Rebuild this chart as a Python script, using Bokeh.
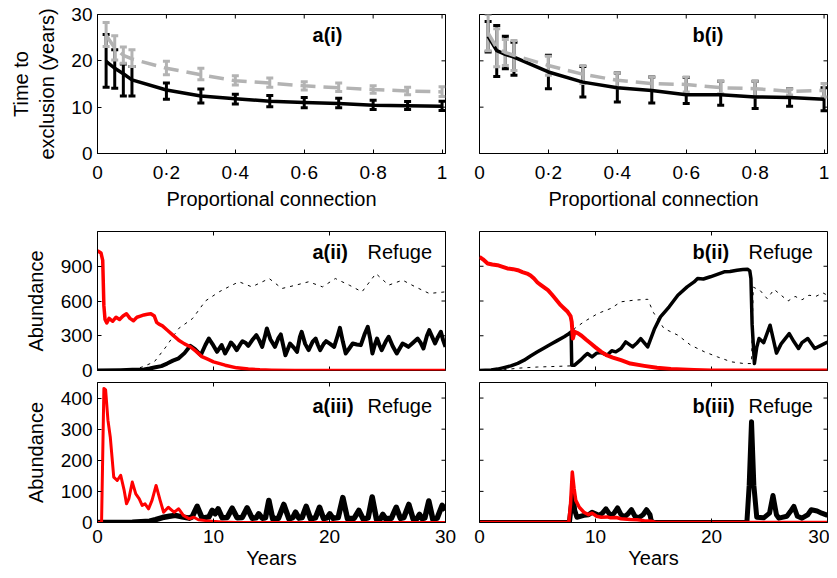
import math
from bokeh.plotting import figure
from bokeh.models import FixedTicker, Range1d, Label, Whisker, TeeHead, ColumnDataSource
from bokeh.layouts import column, row
from bokeh.embed import file_html
from bokeh.resources import INLINE

FONT = "Liberation Sans"
GREY = "#b3b3b3"
RED = "#ff0000"

# ---------------- panel (i) data ----------------
conn = [0.025, 0.05, 0.075, 0.1, 0.2, 0.3, 0.4, 0.5, 0.6, 0.7, 0.8, 0.9, 1.0]
conn_ticks = [0, 0.2, 0.4, 0.6, 0.8, 1.0]
conn_tick_labels = ["0", "0·2", "0·4", "0·6", "0·8", "1"]
time_ticks = [0, 10, 20, 30]
excl_ticks = [0, 10, 20, 30]
ab2_ticks = [0, 300, 600, 900]
ab3_ticks = [0, 100, 200, 300, 400]

ai_black_mean = [19.9, 18.4, 17.2, 15.9, 13.7, 12.4, 11.8, 11.3, 11.0, 10.8, 10.4, 10.3, 10.2]
ai_black_lo = [14.3, 14.1, 12.4, 12.4, 11.7, 10.9, 10.7, 10.1, 9.9, 9.9, 9.5, 9.5, 9.3]
ai_black_hi = [25.7, 22.4, 19.3, 18.8, 15.2, 13.9, 12.8, 12.5, 12.1, 11.9, 11.5, 11.2, 11.3]
ai_grey_mean = [25.5, 22.8, 21.2, 20.4, 18.4, 17.0, 15.7, 15.2, 14.6, 14.2, 13.8, 13.5, 13.3]
ai_grey_lo = [23.1, 20.2, 19.5, 18.8, 17.0, 15.9, 14.8, 14.3, 13.7, 13.4, 13.0, 12.7, 12.3]
ai_grey_hi = [28.3, 25.4, 23.0, 22.4, 19.9, 18.4, 16.8, 16.3, 15.5, 15.2, 14.6, 14.3, 14.4]

bi_black_mean = [25.3, 22.2, 21.4, 20.8, 17.6, 15.4, 14.2, 13.6, 12.7, 12.7, 12.2, 12.1, 11.7]
bi_black_lo = [21.9, 16.6, 18.3, 16.9, 14.0, 12.2, 11.1, 10.9, 10.8, 10.4, 9.7, 10.2, 9.2]
bi_black_hi = [28.5, 27.6, 25.3, 24.0, 21.2, 18.8, 17.4, 16.5, 16.4, 15.6, 15.6, 14.0, 14.2]
bi_grey_mean = [26.0, 22.8, 21.8, 21.2, 19.0, 17.1, 15.8, 15.1, 14.9, 14.2, 14.0, 13.4, 13.6]
bi_grey_lo = [22.2, 18.7, 19.0, 17.9, 16.9, 15.1, 14.2, 13.6, 13.3, 12.9, 12.2, 12.6, 12.2]
bi_grey_hi = [30.0, 26.9, 24.6, 24.4, 21.0, 19.0, 17.4, 16.5, 16.5, 15.6, 15.6, 14.0, 15.1]

# ---------------- panel a(ii) data ----------------
aii_red_t = [0, 0.3, 0.45, 0.55, 0.65, 0.8, 1.0, 1.3, 1.6, 1.9, 2.2, 2.5, 2.8, 3.1, 3.4, 3.7,
             4.0, 4.3, 4.6, 4.9, 5.1, 5.3, 5.6, 6.0, 6.5, 7.0, 7.5, 8.0, 8.5, 9.0, 9.5, 10.0,
             11.0, 12.0, 13.0, 14.0, 15.0, 17.0, 20.0, 30.0]
aii_red_v = [1035, 1015, 950, 560, 440, 410, 450, 425, 460, 440, 470, 490, 450, 430, 460, 470,
             480, 485, 490, 470, 415, 400, 385, 350, 305, 262, 230, 205, 165, 120, 98, 75,
             46, 23, 12, 6, 3, 1, 0, 0]
aii_blk_t = [0, 2, 3, 4, 4.5, 5, 5.5, 6, 6.5, 7, 7.5, 8.0, 8.4, 8.9, 9.3, 9.6, 9.9, 10.3, 10.7,
             11.0, 11.3, 11.5, 11.75, 12.0, 12.3, 12.5, 12.75, 13.0, 13.4, 13.7, 13.95, 14.2,
             14.45, 14.6, 14.9, 15.3, 15.6, 15.8, 16.0, 16.2, 16.6, 16.9, 17.2, 17.45, 17.6,
             17.9, 18.2, 18.55, 18.8, 19.0, 19.2, 19.5, 19.7, 20.05, 20.4, 20.7, 20.9, 21.15,
             21.4, 21.7, 22.0, 22.35, 22.7, 23.05, 23.3, 23.5, 23.7, 23.9, 24.1, 24.3, 24.5,
             24.85, 25.1, 25.45, 25.8, 26.05, 26.3, 26.55, 26.8, 27.2, 27.6, 27.85, 28.1,
             28.4, 28.6, 28.85, 29.1, 29.35, 29.6, 29.8, 30.0]
aii_blk_v = [0, 3, 6, 9, 17, 28, 38, 60, 85, 105, 150, 213, 185, 132, 220, 276, 230, 161, 220,
             147, 200, 242, 215, 176, 225, 253, 240, 213, 270, 305, 260, 204,
             300, 363, 270, 204, 280, 311, 220, 132, 233, 200, 161, 290, 334,
             230, 176, 250, 276, 220, 176, 230, 253, 230, 204, 300, 368, 250,
             147, 190, 233, 225, 219, 320, 377, 280, 147, 220, 276, 220, 176,
             250, 291, 210, 147, 190, 233, 220, 204, 240, 276, 240, 190,
             300, 348, 290, 233, 290, 334, 260, 204]
aii_dot_t = [3.0, 3.9, 4.9, 5.9, 7.0, 8.2, 9.3, 10.5, 11.3, 12.2, 13.3, 14.8, 15.9, 17.1, 18.2,
             19.4, 20.5, 21.7, 22.8, 24.0, 25.1, 26.3, 27.4, 28.6, 30.0]
aii_dot_v = [5, 32, 75, 204, 363, 449, 600, 680, 722, 766, 722, 794, 708, 737, 766,
             722, 794, 737, 679, 837, 737, 780, 722, 665, 679]

# ---------------- panel b(ii) data ----------------
bii_red_t = [0, 0.3, 0.7, 1.1, 1.55, 2.0, 2.4, 2.9, 3.3, 3.7, 4.1, 4.4, 4.7, 5.0, 5.3, 5.6,
             5.9, 6.2, 6.4, 6.7, 7.0, 7.3, 7.6, 7.85, 7.95, 8.05, 8.2, 8.5, 8.8, 9.2, 9.6,
             10.0, 10.5, 11.0, 11.5, 12.2, 13.0, 14.2, 15.3, 16.5, 18.5, 20.0, 30.0]
bii_red_v = [981, 960, 924, 915, 909, 895, 881, 875, 866, 850, 837, 820, 794, 760, 737, 715,
             694, 660, 636, 600, 564, 535, 507, 470, 420, 276, 334, 320, 300, 265, 233,
             200, 161, 130, 112, 89, 60, 40, 23, 12, 5, 1, 0]
bii_blk_t = [0, 1, 1.55, 2.1, 2.7, 3.3, 3.85, 4.4, 5.0, 5.5, 6.1, 6.7, 7.3, 7.6, 7.9, 7.95,
             8.2, 8.7, 9.0, 9.3, 9.7, 10.1, 10.5, 11.0, 11.4, 11.75, 12.2, 12.6, 13.2, 13.6,
             13.9, 14.5, 15.1, 15.6, 16.35, 17.1, 17.9, 18.5, 18.8, 19.3, 19.9, 20.5, 21.1,
             21.6, 22.2, 22.7, 23.1, 23.3, 23.4, 23.5, 23.7, 23.9, 24.1, 24.5, 25.05, 25.6,
             26.0, 26.7, 27.1, 27.5, 27.8, 28.3, 28.9, 29.4, 30.0]
bii_blk_v = [0, 5, 12, 25, 40, 62, 89, 125, 161, 190, 224, 258, 291, 310, 334, 46,
             46, 89, 120, 147, 118, 150, 155, 132, 170, 161, 190, 247, 204, 240,
             276, 204, 363, 463, 550, 650, 722, 765, 794, 790, 809, 830, 852,
             855, 866, 872, 875, 860, 794, 400, 60, 200, 276, 240, 391, 150,
             230, 318, 250, 190, 240, 276, 190, 215, 245]
bii_dot_t = [0, 2, 3.3, 5, 6.5, 7.9, 8.05, 8.2, 9.0, 10.2, 11.3, 12.2, 13.3, 14.5, 15.0, 15.9,
             17.1, 18.2, 19.4, 20.5, 21.7, 22.8, 23.45, 23.6, 24.2, 24.8, 25.4, 26.0, 26.6,
             27.2, 27.8, 28.4, 29.0, 29.6, 30.0]
bii_dot_v = [0, 5, 20, 30, 35, 40, 330, 363, 420, 492, 535, 593, 607, 615, 500, 363,
             305, 219, 161, 118, 75, 60, 60, 720, 690, 620, 700, 650, 600,
             640, 610, 650, 640, 670, 650]

# ---------------- panel a(iii) data ----------------
aiii_red_t = [0, 0.35, 0.55, 0.7, 0.9, 1.1, 1.25, 1.4, 1.7, 2.0, 2.3, 2.5, 2.7, 3.0, 3.3, 3.6,
              3.85, 4.1, 4.4, 4.7, 5.05, 5.4, 5.7, 6.1, 6.6, 7.0, 7.4, 7.9, 8.3, 8.7, 9.3,
              9.9, 10.7, 12.0, 30.0]
aiii_red_v = [0, 0, 431, 426, 329, 275, 211, 146, 135, 152, 103, 60, 76, 130, 92, 76,
              55, 60, 44, 71, 119, 71, 33, 49, 33, 44, 23, 12, 17, 9, 6,
              4, 2, 0, 0]
aiii_blk_t = [0, 3, 4.5, 5.0, 5.6, 6.2, 6.7, 7.3, 7.9, 8.16, 8.59, 9.02, 9.6, 9.89, 10.14,
              10.4, 10.75, 11.18, 11.61, 12.04, 12.47, 12.9, 13.33, 13.68, 13.9, 14.2, 14.48,
              14.77, 15.1, 15.6, 16.06, 16.5, 16.84, 17.07, 17.36, 17.64, 17.99, 18.36, 18.79,
              19.14, 19.48, 19.8, 20.03, 20.29, 20.75, 21.15, 21.55, 22.13, 22.53, 22.9,
              23.33, 23.68, 24.05, 24.4, 24.6, 24.83, 25.34, 25.75, 26.12, 26.41, 26.84,
              27.21, 27.56, 27.76, 27.99, 28.22, 28.56, 28.91, 29.28, 29.71, 30.0]
aiii_blk_v = [0, 1, 4, 9, 16, 20, 23, 18, 14, 18, 52, 14, 18, 39, 28,
              44, 15, 16, 46, 15, 16, 47, 14, 15, 28, 14, 15,
              71, 12, 14, 58, 12, 16, 33, 14, 16, 52, 12, 15,
              49, 13, 15, 28, 14, 16, 80, 12, 14, 39, 11,
              15, 82, 10, 12, 26, 12, 14, 49, 13, 16, 58,
              11, 13, 26, 12, 15, 69, 10, 14, 55, 40]

# ---------------- panel b(iii) data ----------------
biii_red_t = [0, 7.7, 7.85, 8.0, 8.15, 8.3, 8.6, 9.0, 9.4, 9.7, 10.1, 10.5, 11.0, 11.3, 11.8,
              12.2, 13.0, 13.6, 14.2, 14.8, 15.2, 30.0]
biii_red_v = [0, 0, 60, 162, 110, 71, 49, 33, 25, 30, 20, 17, 18, 15, 16,
              12, 10, 9, 6, 4, 0, 0]
biii_blk_t = [0, 7.75, 7.9, 8.05, 8.2, 8.4, 9.0, 9.4, 9.7, 10.0, 10.3, 10.6, 10.9, 11.3, 11.6,
              11.9, 12.2, 12.5, 12.8, 13.1, 13.4, 13.7, 14.1, 14.4, 14.7, 14.8, 15.0, 23.05,
              23.25, 23.45, 23.65, 23.9, 24.5, 25.0, 25.3, 25.6, 25.8, 26.5, 26.8, 27.1, 27.4,
              27.8, 28.3, 28.6, 29.1, 29.5, 30.0]
biii_blk_v = [0, 0, 50, 98, 40, 17, 23, 25, 33, 28, 23, 30, 44, 22, 30,
              47, 25, 18, 28, 41, 20, 15, 25, 41, 25, 6, 0, 0,
              120, 324, 120, 17, 15, 30, 87, 25, 14, 20, 35, 52, 20,
              14, 25, 41, 37, 30, 23]

TICK_LEN = 4


def style_axis(ax, ticks, overrides=None, standoff=5, label=None, label_standoff=0):
    ax.ticker = FixedTicker(ticks=ticks)
    ax.major_tick_in = TICK_LEN
    ax.major_tick_out = 0
    ax.minor_tick_in = 0
    ax.minor_tick_out = 0
    ax.axis_line_color = "black"
    ax.major_tick_line_color = "black"
    ax.major_tick_line_width = 1
    ax.major_label_text_font = FONT
    ax.major_label_text_color = "black"
    ax.major_label_text_font_size = "19px"
    ax.major_label_standoff = standoff
    if overrides:
        ax.major_label_overrides = overrides
    if label:
        ax.axis_label = label
        ax.axis_label_text_font = FONT
        ax.axis_label_text_font_style = "normal"
        ax.axis_label_text_font_size = "20px"
        ax.axis_label_text_color = "black"
        ax.axis_label_standoff = label_standoff


def make_fig(xr, yr, fh, left, right, top, bottom, show_x, show_y):
    p = figure(x_range=Range1d(*xr), y_range=Range1d(*yr), frame_width=348, frame_height=fh,
               min_border_left=left, min_border_right=right, min_border_top=top,
               min_border_bottom=bottom, toolbar_location=None, output_backend="svg",
               x_axis_location="below" if show_x else None,
               y_axis_location="left" if show_y else None)
    p.xgrid.visible = False
    p.ygrid.visible = False
    p.outline_line_color = "black"
    p.outline_line_alpha = 1.0
    p.outline_line_width = 1
    p.background_fill_color = "white"
    p.border_fill_color = "white"
    return p


def frame_ticks(p, xticks, yticks, xr, yr, sides):
    # inward tick marks on the sides of the box that carry no labelled axis;
    # dash markers centred on the frame edge, the outer half is clipped by the frame
    size = 2 * TICK_LEN
    if "top" in sides:
        p.scatter(xticks, [yr[1]] * len(xticks), marker="dash", size=size, angle=math.pi / 2,
                  line_color="black", line_width=1)
    if "bottom" in sides:
        p.scatter(xticks, [yr[0]] * len(xticks), marker="dash", size=size, angle=math.pi / 2,
                  line_color="black", line_width=1)
    if "right" in sides:
        p.scatter([xr[1]] * len(yticks), yticks, marker="dash", size=size,
                  line_color="black", line_width=1)
    if "left" in sides:
        p.scatter([xr[0]] * len(yticks), yticks, marker="dash", size=size,
                  line_color="black", line_width=1)


def add_label(p, x, y, text, bold):
    p.add_layout(Label(x=x, y=y, text=text, text_font=FONT,
                       text_font_style="bold" if bold else "normal",
                       text_font_size="20px", text_baseline="middle", text_align="left",
                       text_color="black"))


def errbar_panel(p, bm, blo, bhi, gm, glo, ghi):
    p.line(conn, bm, line_color="black", line_width=3.5, line_join="round")
    src_b = ColumnDataSource(dict(x=conn, lo=blo, hi=bhi))
    p.add_layout(Whisker(source=src_b, base="x", lower="lo", upper="hi", line_color="black",
                         line_width=3,
                         upper_head=TeeHead(size=7, line_color="black", line_width=3),
                         lower_head=TeeHead(size=7, line_color="black", line_width=3)))
    p.line(conn, gm, line_color=GREY, line_width=3.5, line_dash="15 8")
    src_g = ColumnDataSource(dict(x=conn, lo=glo, hi=ghi))
    p.add_layout(Whisker(source=src_g, base="x", lower="lo", upper="hi", line_color=GREY,
                         line_width=3,
                         upper_head=TeeHead(size=7, line_color=GREY, line_width=3),
                         lower_head=TeeHead(size=7, line_color=GREY, line_width=3)))


conn_over = dict(zip(conn_ticks, conn_tick_labels))
XR_C = (0, 1.01)
XR_T = (0, 30)
YR_I = (0, 30)
YR_II = (0, 1200)
YR_III = (0, 450)

# ---- row 1 ----
p_ai = make_fig(XR_C, YR_I, 139, 97, 18, 14, 62, True, True)
style_axis(p_ai.xaxis[0], conn_ticks, conn_over, 8, "Proportional connection", 2)
style_axis(p_ai.yaxis[0], excl_ticks, None, 5, "Time to\nexclusion (years)", 10)
frame_ticks(p_ai, conn_ticks, excl_ticks, XR_C, YR_I, ("top", "right"))
errbar_panel(p_ai, ai_black_mean, ai_black_lo, ai_black_hi, ai_grey_mean, ai_grey_lo, ai_grey_hi)
add_label(p_ai, 0.624, 25.5, "a(i)", True)

p_bi = make_fig(XR_C, YR_I, 139, 16, 2, 14, 62, True, False)
style_axis(p_bi.xaxis[0], conn_ticks, conn_over, 8, "Proportional connection", 2)
frame_ticks(p_bi, conn_ticks, excl_ticks, XR_C, YR_I, ("top", "right", "left"))
errbar_panel(p_bi, bi_black_mean, bi_black_lo, bi_black_hi, bi_grey_mean, bi_grey_lo, bi_grey_hi)
add_label(p_bi, 0.618, 25.5, "b(i)", True)

# ---- row 2 ----
p_aii = make_fig(XR_T, YR_II, 139, 97, 18, 16, 11, False, True)
style_axis(p_aii.yaxis[0], ab2_ticks, None, 5, "Abundance", 11)
frame_ticks(p_aii, time_ticks, ab2_ticks, XR_T, YR_II, ("top", "right", "bottom"))
p_aii.line(aii_dot_t, aii_dot_v, line_color="black", line_width=1, line_dash="3 5")
p_aii.line(aii_blk_t, aii_blk_v, line_color="black", line_width=4, line_join="round")
p_aii.line(aii_red_t, aii_red_v, line_color=RED, line_width=3.5, line_join="round")
add_label(p_aii, 18.53, 1019, "a(ii)", True)
add_label(p_aii, 23.28, 1019, "Refuge", False)

p_bii = make_fig(XR_T, YR_II, 139, 16, 2, 16, 11, False, False)
frame_ticks(p_bii, time_ticks, ab2_ticks, XR_T, YR_II, ("top", "right", "bottom", "left"))
p_bii.line(bii_dot_t, bii_dot_v, line_color="black", line_width=1, line_dash="3 5")
p_bii.line(bii_blk_t, bii_blk_v, line_color="black", line_width=3.5, line_join="round")
p_bii.line(bii_red_t, bii_red_v, line_color=RED, line_width=4, line_join="round")
add_label(p_bii, 18.36, 1019, "b(ii)", True)
add_label(p_bii, 23.19, 1019, "Refuge", False)

# ---- row 3 ----
p_aiii = make_fig(XR_T, YR_III, 140, 97, 18, 1, 55, True, True)
style_axis(p_aiii.xaxis[0], time_ticks, None, 7, "Years", 1)
style_axis(p_aiii.yaxis[0], ab3_ticks, None, 5, "Abundance", 11)
frame_ticks(p_aiii, time_ticks, ab3_ticks, XR_T, YR_III, ("top", "right"))
p_aiii.line(aiii_blk_t, aiii_blk_v, line_color="black", line_width=5.5, line_join="round")
p_aiii.line(aiii_red_t, aiii_red_v, line_color=RED, line_width=3, line_join="round")
add_label(p_aiii, 18.53, 376, "a(iii)", True)
add_label(p_aiii, 23.28, 376, "Refuge", False)

p_biii = make_fig(XR_T, YR_III, 140, 16, 2, 1, 55, True, False)
style_axis(p_biii.xaxis[0], time_ticks, None, 7, "Years", 1)
frame_ticks(p_biii, time_ticks, ab3_ticks, XR_T, YR_III, ("top", "right", "left"))
p_biii.line(biii_blk_t, biii_blk_v, line_color="black", line_width=5, line_join="round")
p_biii.line(biii_red_t, biii_red_v, line_color=RED, line_width=3.5, line_join="round")
add_label(p_biii, 18.36, 376, "b(iii)", True)
add_label(p_biii, 23.19, 376, "Refuge", False)

layout = column(row(p_ai, p_bi), row(p_aii, p_bii), row(p_aiii, p_biii))

open("out.html", "w").write(file_html(layout, INLINE))
